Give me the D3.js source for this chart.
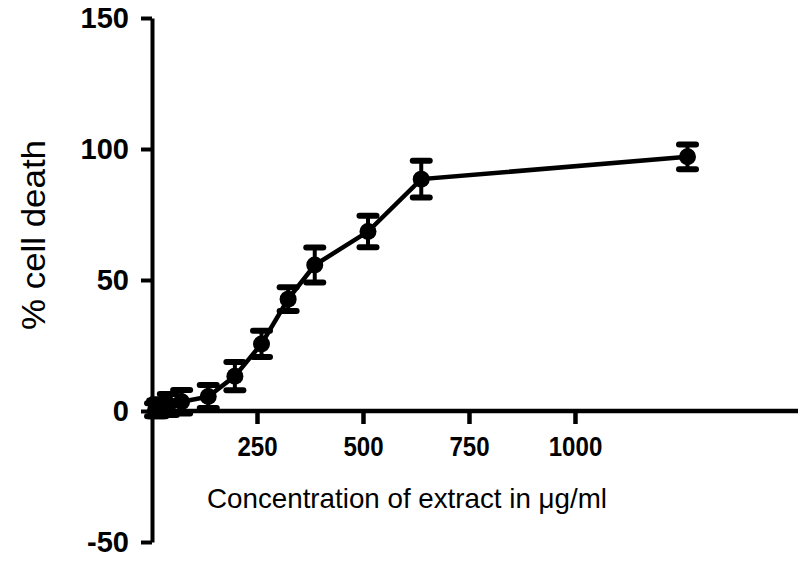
<!DOCTYPE html>
<html>
<head>
<meta charset="utf-8">
<script src="https://cdn.jsdelivr.net/npm/d3@7"></script>
<style>
  body { margin: 0; background: #fff; }
  text { font-family: "Liberation Sans", Arial, Helvetica, sans-serif; fill: #000; }
</style>
</head>
<body>
<div id="chart"></div>
<script>
// concentration (ug/ml), mean % cell death and SD
const concentrations = [1, 5, 10, 25, 50, 100, 150, 200, 250, 300, 400, 500, 1000];
const cellDeath = [0.5, 1, 1.5, 2.5, 3.5, 5.5, 13.3, 25.6, 42.7, 55.7, 68.5, 88.5, 97];
const errors = [2.5, 3, 3, 4, 4.5, 4.4, 5.4, 5, 4.5, 6.7, 6, 7, 4.7];

const yTicks = [-50, 0, 50, 100, 150];
const xTicks = [250, 500, 750, 1000];

const width = 798, height = 561;

const svg = d3.select('#chart').append('svg')
    .attr('width', width)
    .attr('height', height);

// points sit on a 0-1200 scale
const x = d3.scaleLinear().domain([0, 1200]).range([155, 794]);
// the tick labels in the figure are on a tighter scale than the points
const xTickScale = d3.scaleLinear().domain([0, 1526]).range([151, 798]);
const y = d3.scaleLinear().domain([-50, 150]).range([542, 18]);

const data = concentrations.map((c, i) => ({ c: c, v: cellDeath[i], e: errors[i] }));

// axes
const yAxis = d3.axisLeft(y).tickValues(yTicks).tickSize(11).tickSizeOuter(0).tickPadding(12)
    .tickFormat(d => String(d));
const gy = svg.append('g')
    .attr('transform', 'translate(152,0)')
    .call(yAxis);
gy.selectAll('path, line').attr('stroke', '#000').attr('stroke-width', 4);
gy.selectAll('text')
    .style('font-size', '29px')
    .style('font-weight', 'bold');

const xAxis = d3.axisBottom(xTickScale).tickValues(xTicks).tickSize(13).tickSizeOuter(0).tickPadding(12)
    .tickFormat(d => String(d));
const gx = svg.append('g')
    .attr('transform', `translate(0,${y(0)})`)
    .call(xAxis);
gx.select('.domain').attr('d', `M${x.range()[0] - 3},0H${width}`);
gx.selectAll('path, line').attr('stroke', '#000').attr('stroke-width', 4.5);
gx.selectAll('text')
    .style('font-size', '28px')
    .style('font-weight', 'bold')
    .each(function () {
        const w = this.getComputedTextLength();
        d3.select(this).attr('textLength', w * 0.86).attr('lengthAdjust', 'spacingAndGlyphs');
    });

// axis titles
svg.append('text')
    .attr('x', 207)
    .attr('y', 508)
    .attr('textLength', 400)
    .attr('lengthAdjust', 'spacingAndGlyphs')
    .style('font-size', '28px')
    .text('Concentration of extract in μg/ml');

svg.append('text')
    .attr('transform', 'translate(45,235) rotate(-90)')
    .attr('text-anchor', 'middle')
    .attr('textLength', 190)
    .attr('lengthAdjust', 'spacingAndGlyphs')
    .style('font-size', '34px')
    .text('% cell death');

// connecting line
const line = d3.line().x(d => x(d.c)).y(d => y(d.v));
svg.append('path')
    .datum(data)
    .attr('d', line)
    .attr('fill', 'none')
    .attr('stroke', '#000')
    .attr('stroke-width', 4.5);

// error bars
const bars = svg.append('g').selectAll('g')
    .data(data)
    .join('g');

bars.append('line')
    .attr('x1', d => x(d.c)).attr('x2', d => x(d.c))
    .attr('y1', d => y(d.v - d.e)).attr('y2', d => y(d.v + d.e))
    .attr('stroke', '#000').attr('stroke-width', 4);

[-1, 1].forEach(s => {
    bars.append('line')
        .attr('x1', d => x(d.c) - 8.5).attr('x2', d => x(d.c) + 8.5)
        .attr('y1', d => y(d.v + s * d.e)).attr('y2', d => y(d.v + s * d.e))
        .attr('stroke', '#000').attr('stroke-width', 6)
        .attr('stroke-linecap', 'round');
});

bars.append('circle')
    .attr('cx', d => x(d.c))
    .attr('cy', d => y(d.v))
    .attr('r', 8.5)
    .attr('fill', '#000');
</script>
</body>
</html>
